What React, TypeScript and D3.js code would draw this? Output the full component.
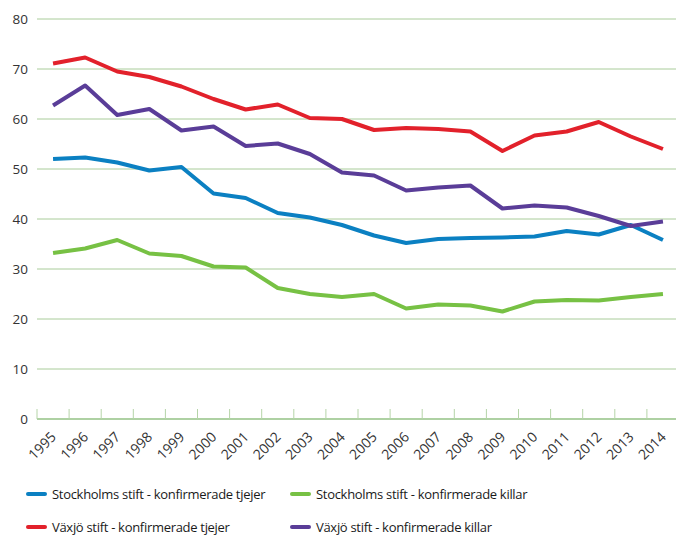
import React, { useEffect, useRef } from 'react';
import * as d3 from 'd3';

const years = [
  '1995', '1996', '1997', '1998', '1999', '2000', '2001', '2002', '2003', '2004',
  '2005', '2006', '2007', '2008', '2009', '2010', '2011', '2012', '2013', '2014'
];

const stockholmTjejer = [52.0, 52.3, 51.3, 49.7, 50.4, 45.1, 44.2, 41.2, 40.3, 38.8, 36.7, 35.2, 36.0, 36.2, 36.3, 36.5, 37.6, 36.9, 38.8, 35.8];
const stockholmKillar = [33.2, 34.1, 35.8, 33.1, 32.6, 30.5, 30.3, 26.2, 25.0, 24.4, 25.0, 22.1, 22.9, 22.7, 21.5, 23.5, 23.8, 23.7, 24.4, 25.0];
const vaxjoTjejer = [71.1, 72.3, 69.5, 68.4, 66.5, 64.0, 61.9, 62.9, 60.2, 60.0, 57.8, 58.2, 58.0, 57.5, 53.6, 56.7, 57.5, 59.4, 56.5, 54.0];
const vaxjoKillar = [62.7, 66.7, 60.8, 62.0, 57.7, 58.5, 54.6, 55.1, 53.0, 49.3, 48.7, 45.7, 46.3, 46.7, 42.1, 42.7, 42.3, 40.6, 38.6, 39.5];

const yTicks = [0, 10, 20, 30, 40, 50, 60, 70, 80];

const series = [
  { name: 'Stockholms stift - konfirmerade tjejer', values: stockholmTjejer, color: '#0b80c2' },
  { name: 'Stockholms stift - konfirmerade killar', values: stockholmKillar, color: '#77c144' },
  { name: 'Växjö stift - konfirmerade tjejer', values: vaxjoTjejer, color: '#e2212b' },
  { name: 'Växjö stift - konfirmerade killar', values: vaxjoKillar, color: '#5a3d98' }
];

const width = 676;
const height = 535;

const App: React.FC = () => {
  const svgRef = useRef<SVGSVGElement>(null);

  useEffect(() => {
    if (!svgRef.current) return;
    const svg = d3.select(svgRef.current);
    svg.selectAll('*').remove();

    const left = 37;
    const right = 676;
    const x = d3.scaleBand<string>().domain(years).range([left, left + 32.1 * years.length]);
    const y = d3.scaleLinear().domain([0, 80]).range([419, 19]);
    const font = '"Open Sans", sans-serif';

    // grid lines
    svg.append('g')
      .selectAll('line')
      .data(yTicks.slice(1))
      .enter().append('line')
      .attr('x1', left)
      .attr('x2', right)
      .attr('y1', d => y(d))
      .attr('y2', d => y(d))
      .attr('stroke', '#a9cc9a')
      .attr('stroke-width', 1);

    // y labels
    svg.append('g')
      .selectAll('text')
      .data(yTicks)
      .enter().append('text')
      .attr('x', 28)
      .attr('y', d => y(d))
      .attr('dy', '0.35em')
      .attr('text-anchor', 'end')
      .style('font-family', font)
      .style('font-size', '13.5px')
      .style('fill', '#333')
      .text(d => d);

    // x axis line + ticks
    svg.append('line')
      .attr('x1', left)
      .attr('x2', right)
      .attr('y1', y(0))
      .attr('y2', y(0))
      .attr('stroke', '#93c284')
      .attr('stroke-width', 1.5);

    svg.append('g')
      .selectAll('line')
      .data(years)
      .enter().append('line')
      .attr('x1', d => x(d)!)
      .attr('x2', d => x(d)!)
      .attr('y1', y(0))
      .attr('y2', y(0) - 10)
      .attr('stroke', '#b5d4a8')
      .attr('stroke-width', 1);

    // x labels
    svg.append('g')
      .selectAll('text')
      .data(years)
      .enter().append('text')
      .attr('transform', d => `translate(${x(d)! + x.bandwidth() / 2 - 3},${y(0) + 12}) rotate(-45)`)
      .attr('text-anchor', 'end')
      .attr('dy', '0.7em')
      .style('font-family', font)
      .style('font-size', '14px')
      .style('fill', '#333')
      .text(d => d);

    // lines
    const line = d3.line<number>()
      .x((d, i) => x(years[i])! + x.bandwidth() / 2)
      .y(d => y(d));

    const drawOrder = [series[1], series[0], series[3], series[2]];
    svg.append('g')
      .selectAll('path')
      .data(drawOrder)
      .enter().append('path')
      .attr('d', d => line(d.values))
      .attr('fill', 'none')
      .attr('stroke', d => d.color)
      .attr('stroke-width', 4)
      .attr('stroke-linejoin', 'round');

    // legend
    const legendPos = [[28, 494], [292, 494], [28, 527], [292, 527]];
    const legend = svg.append('g')
      .selectAll('g')
      .data(series)
      .enter().append('g')
      .attr('transform', (d, i) => `translate(${legendPos[i][0]},${legendPos[i][1]})`);

    legend.append('line')
      .attr('x1', 0)
      .attr('x2', 17)
      .attr('stroke', d => d.color)
      .attr('stroke-width', 4)
      .attr('stroke-linecap', 'round');

    legend.append('text')
      .attr('x', 24)
      .attr('dy', '0.35em')
      .style('font-family', font)
      .style('font-size', '13px')
      .style('font-weight', 500)
      .style('letter-spacing', '-0.3px')
      .style('fill', '#1a1a1a')
      .text(d => d.name);
  }, []);

  return (
    <svg
      ref={svgRef}
      width={width}
      height={height}
      style={{ position: 'absolute', left: 0, top: 0, background: 'white' }}
    />
  );
};

export default App;
